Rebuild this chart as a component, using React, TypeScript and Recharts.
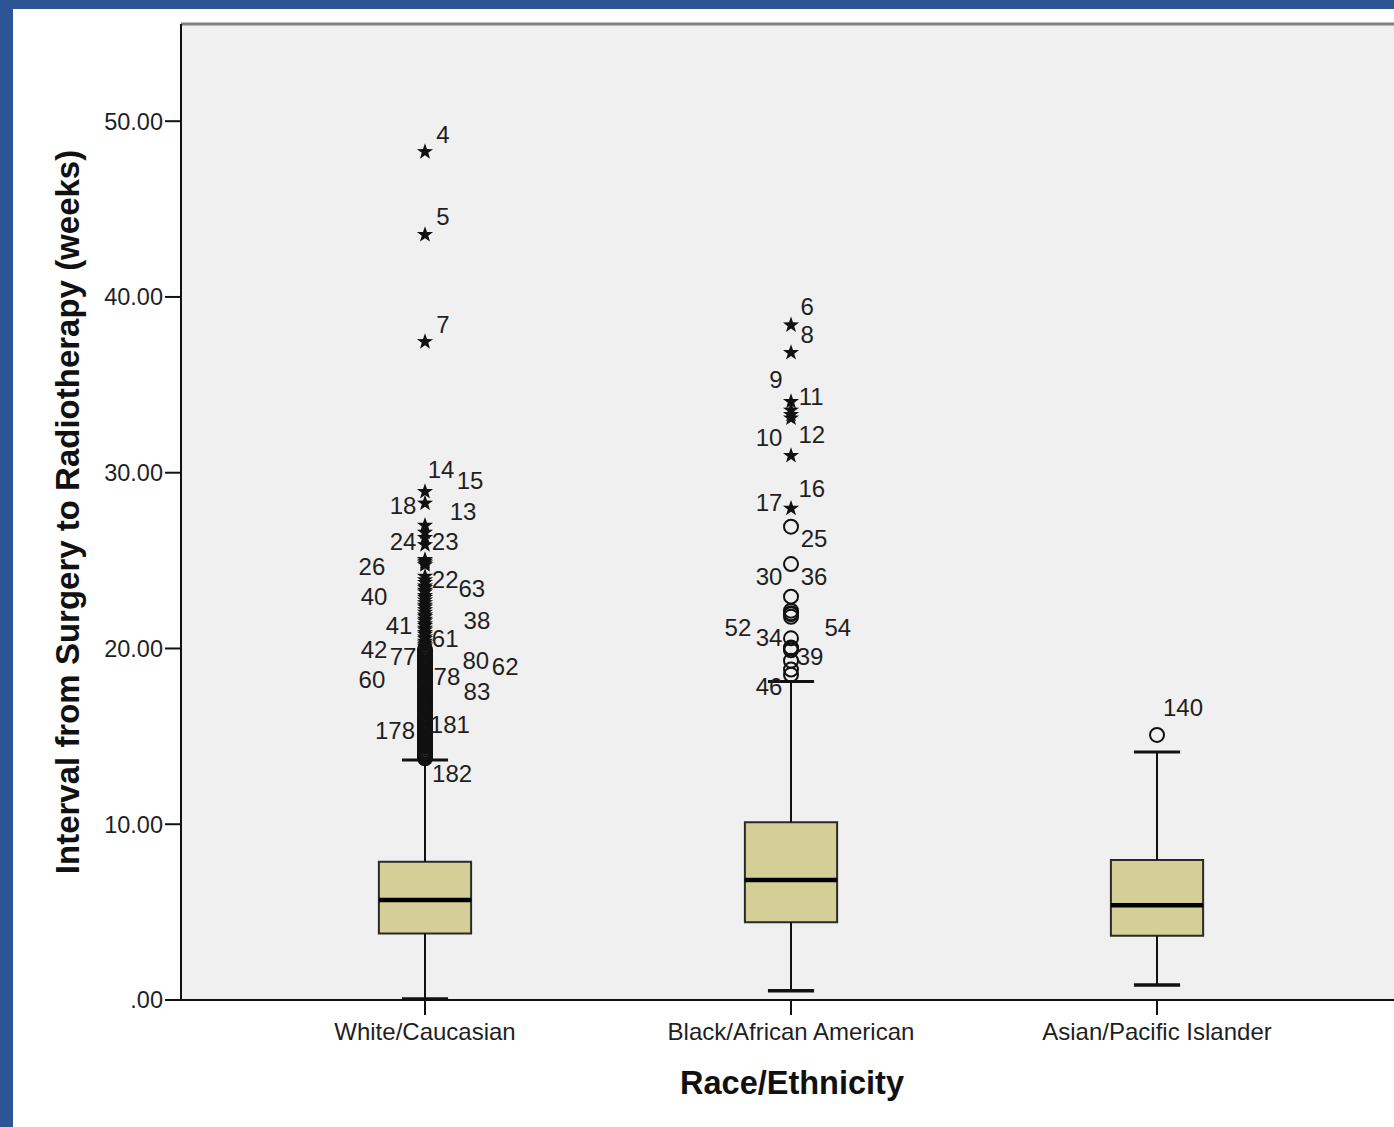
import React from 'react';
import {
  ComposedChart,
  XAxis,
  YAxis,
  CartesianGrid,
  ReferenceArea,
  ReferenceLine,
  Scatter,
  Label,
} from 'recharts';

// Kategorier och lådagrammets statistik (veckor)
const categories = ['White/Caucasian', 'Black/African American', 'Asian/Pacific Islander'];
const whiskerLow = [0.06, 0.53, 0.85];
const quartile1 = [3.79, 4.42, 3.66];
const medians = [5.69, 6.83, 5.39];
const quartile3 = [7.87, 10.11, 7.97];
const whiskerHigh = [13.65, 18.12, 14.11];

// Extremvärden (stjärnor) och avvikare (cirklar)
const whiteExtremes = [
  48.26, 43.54, 37.45, 28.92, 28.26, 27.0, 26.6, 26.3, 25.9, 25.05, 24.95, 24.85, 24.75, 24.1,
  23.9, 23.75, 23.55, 23.45, 23.3, 23.2, 23.0, 22.9, 22.75, 22.6, 22.45, 22.35, 22.2, 22.05,
  21.9, 21.8, 21.65, 21.55, 21.4, 21.3, 21.15, 21.05, 20.9, 20.8, 20.65, 20.55, 20.4, 20.3,
  20.2, 20.12,
];
const whiteOutliers = [
  19.95, 19.85, 19.75, 19.6, 19.5, 19.4, 19.3, 19.2, 19.1, 19.0, 18.9, 18.8, 18.7, 18.55, 18.45,
  18.35, 18.25, 18.15, 18.05, 17.95, 17.85, 17.7, 17.6, 17.5, 17.4, 17.3, 17.2, 17.1, 17.0, 16.9,
  16.8, 16.7, 16.6, 16.5, 16.4, 16.25, 16.15, 16.05, 15.95, 15.85, 15.75, 15.65, 15.55, 15.45,
  15.35, 15.25, 15.15, 15.05, 14.95, 14.85, 14.75, 14.65, 14.55, 14.45, 14.4, 14.3, 14.2, 14.1,
  14.05, 13.95, 13.9, 13.8, 13.75,
];
const blackExtremes = [38.4, 36.83, 34.04, 33.55, 33.3, 33.1, 30.97, 27.97];
const blackOutliers = [26.93, 24.8, 22.95, 22.15, 22.0, 21.95, 21.8, 20.58, 20.05, 20.0, 19.9, 19.3, 18.8, 18.5];
const asianOutliers = [15.08];

// Fallnummer vid punkterna (x i kategorienheter, y i veckor)
const caseLabels = [
  { id: '4', x: 1.049, y: 49.27 },
  { id: '5', x: 1.049, y: 44.55 },
  { id: '7', x: 1.049, y: 38.46 },
  { id: '14', x: 1.044, y: 30.16 },
  { id: '15', x: 1.123, y: 29.53 },
  { id: '18', x: 0.94, y: 28.11 },
  { id: '13', x: 1.104, y: 27.77 },
  { id: '24', x: 0.94, y: 26.06 },
  { id: '23', x: 1.055, y: 26.06 },
  { id: '26', x: 0.855, y: 24.69 },
  { id: '22', x: 1.055, y: 23.95 },
  { id: '63', x: 1.128, y: 23.44 },
  { id: '40', x: 0.861, y: 22.93 },
  { id: '38', x: 1.142, y: 21.62 },
  { id: '41', x: 0.929, y: 21.28 },
  { id: '61', x: 1.055, y: 20.54 },
  { id: '42', x: 0.861, y: 19.97 },
  { id: '77', x: 0.94, y: 19.52 },
  { id: '80', x: 1.139, y: 19.34 },
  { id: '62', x: 1.219, y: 19.0 },
  { id: '78', x: 1.06, y: 18.43 },
  { id: '60', x: 0.855, y: 18.21 },
  { id: '83', x: 1.142, y: 17.58 },
  { id: '178', x: 0.918, y: 15.36 },
  { id: '181', x: 1.068, y: 15.65 },
  { id: '182', x: 1.074, y: 12.86 },
  { id: '6', x: 2.044, y: 39.43 },
  { id: '8', x: 2.044, y: 37.84 },
  { id: '9', x: 1.959, y: 35.33 },
  { id: '11', x: 2.055, y: 34.31 },
  { id: '10', x: 1.94, y: 32.03 },
  { id: '12', x: 2.057, y: 32.2 },
  { id: '16', x: 2.057, y: 29.13 },
  { id: '17', x: 1.94, y: 28.28 },
  { id: '25', x: 2.063, y: 26.23 },
  { id: '30', x: 1.94, y: 24.07 },
  { id: '36', x: 2.063, y: 24.07 },
  { id: '52', x: 1.855, y: 21.22 },
  { id: '54', x: 2.128, y: 21.22 },
  { id: '34', x: 1.94, y: 20.6 },
  { id: '39', x: 2.052, y: 19.57 },
  { id: '46', x: 1.94, y: 17.81 },
  { id: '140', x: 3.071, y: 16.67 },
];

const yTicks = [0, 10, 20, 30, 40, 50];
const xTicks = [1, 2, 3];

const FONT = '"Liberation Sans", Arial, sans-serif';
const BLUE = '#2d5596';
const BOX_FILL = '#d4cf96';
const BOX_HALF = 0.126;
const CAP_HALF = 0.063;

const toPoints = (values: number[], cat: number) => values.map((v) => ({ x: cat, y: v }));

const starPath = (cx: number, cy: number, outer: number, inner: number) => {
  const pts: string[] = [];
  for (let i = 0; i < 10; i++) {
    const a = (-90 + i * 36) * (Math.PI / 180);
    const r = i % 2 === 0 ? outer : inner;
    pts.push(`${cx + r * Math.cos(a)},${cy + r * Math.sin(a)}`);
  }
  return `M${pts.join('L')}Z`;
};

const StarShape = (props: any) => {
  const { cx, cy } = props;
  if (cx == null || cy == null) return null;
  return <path d={starPath(cx, cy, 8.5, 3.4)} fill="#111" />;
};

const CircleShape = (props: any) => {
  const { cx, cy } = props;
  if (cx == null || cy == null) return null;
  return <circle cx={cx} cy={cy} r={7} fill="none" stroke="#111" strokeWidth={2} />;
};

const CaseLabel = (props: any) => {
  const { cx, cy, payload } = props;
  if (cx == null || cy == null) return null;
  return (
    <text
      x={cx}
      y={cy}
      textAnchor="middle"
      dominantBaseline="central"
      fontFamily={FONT}
      fontSize={24}
      fill="#1f1f1f"
    >
      {payload.id}
    </text>
  );
};

const YTitle = () => (
  <text
    x={79}
    y={512}
    transform="rotate(-90, 79, 512)"
    textAnchor="middle"
    fontFamily={FONT}
    fontSize={33}
    fontWeight="bold"
    fill="#111"
  >
    Interval from Surgery to Radiotherapy (weeks)
  </text>
);

const XTitle = () => (
  <text x={792} y={1094} textAnchor="middle" fontFamily={FONT} fontSize={32.5} fontWeight="bold" fill="#111">
    Race/Ethnicity
  </text>
);

export default function App() {
  return (
    <div style={{ position: 'relative', width: 1394, height: 1127, background: '#fff', overflow: 'hidden' }}>
      <style>{'body{margin:0}'}</style>
      <div style={{ position: 'absolute', left: 0, top: 0, width: 1394, height: 9, background: BLUE }} />
      <div style={{ position: 'absolute', left: 0, top: 0, width: 13, height: 1127, background: BLUE }} />
      <div style={{ position: 'absolute', left: 0, top: 0 }}>
        <ComposedChart width={1394} height={1127} margin={{ top: 24, right: 0, bottom: 0, left: 0 }}>
          <CartesianGrid horizontal={false} vertical={false} fill="#f0f0f0" />
          <XAxis
            type="number"
            dataKey="x"
            domain={[1 / 3, 3.6475]}
            allowDataOverflow
            ticks={xTicks}
            tickFormatter={(v: number) => categories[v - 1] ?? ''}
            height={127}
            tickSize={15}
            tickMargin={8}
            axisLine={{ stroke: '#111', strokeWidth: 2 }}
            tickLine={{ stroke: '#111', strokeWidth: 2 }}
            tick={{ fontSize: 24, fontFamily: FONT, fill: '#1f1f1f' }}
          >
            <Label content={XTitle} />
          </XAxis>
          <YAxis
            type="number"
            dataKey="y"
            domain={[0, 55.53]}
            allowDataOverflow
            ticks={yTicks}
            tickFormatter={(v: number) => (v === 0 ? '.00' : v.toFixed(2))}
            width={181}
            tickSize={16}
            tickMargin={2}
            axisLine={{ stroke: '#111', strokeWidth: 2 }}
            tickLine={{ stroke: '#111', strokeWidth: 2 }}
            tick={{ fontSize: 23.5, fontFamily: FONT, fill: '#1f1f1f' }}
          >
            <Label content={YTitle} />
          </YAxis>

          <ReferenceLine y={55.53} stroke="#808080" strokeWidth={3} ifOverflow="visible" />

          {categories.map((_, i) => {
            const c = i + 1;
            return (
              <React.Fragment key={`whisk-${i}`}>
                <ReferenceLine
                  segment={[{ x: c, y: quartile3[i] }, { x: c, y: whiskerHigh[i] }]}
                  stroke="#111"
                  strokeWidth={2}
                />
                <ReferenceLine
                  segment={[{ x: c, y: whiskerLow[i] }, { x: c, y: quartile1[i] }]}
                  stroke="#111"
                  strokeWidth={2}
                />
                <ReferenceLine
                  segment={[{ x: c - CAP_HALF, y: whiskerHigh[i] }, { x: c + CAP_HALF, y: whiskerHigh[i] }]}
                  stroke="#111"
                  strokeWidth={3}
                />
                <ReferenceLine
                  segment={[{ x: c - CAP_HALF, y: whiskerLow[i] }, { x: c + CAP_HALF, y: whiskerLow[i] }]}
                  stroke="#111"
                  strokeWidth={3.5}
                />
              </React.Fragment>
            );
          })}

          {categories.map((_, i) => (
            <ReferenceArea
              key={`box-${i}`}
              x1={i + 1 - BOX_HALF}
              x2={i + 1 + BOX_HALF}
              y1={quartile1[i]}
              y2={quartile3[i]}
              fill={BOX_FILL}
              fillOpacity={1}
              stroke="#2a2a2a"
              strokeWidth={2}
            />
          ))}

          {categories.map((_, i) => (
            <ReferenceLine
              key={`med-${i}`}
              segment={[{ x: i + 1 - BOX_HALF, y: medians[i] }, { x: i + 1 + BOX_HALF, y: medians[i] }]}
              stroke="#000"
              strokeWidth={4.5}
            />
          ))}

          <Scatter data={toPoints(whiteOutliers, 1)} shape={CircleShape} isAnimationActive={false} />
          <Scatter data={toPoints(blackOutliers, 2)} shape={CircleShape} isAnimationActive={false} />
          <Scatter data={toPoints(asianOutliers, 3)} shape={CircleShape} isAnimationActive={false} />
          <Scatter data={toPoints(whiteExtremes, 1)} shape={StarShape} isAnimationActive={false} />
          <Scatter data={toPoints(blackExtremes, 2)} shape={StarShape} isAnimationActive={false} />
          <Scatter data={caseLabels} shape={CaseLabel} isAnimationActive={false} />
        </ComposedChart>
      </div>
    </div>
  );
}
